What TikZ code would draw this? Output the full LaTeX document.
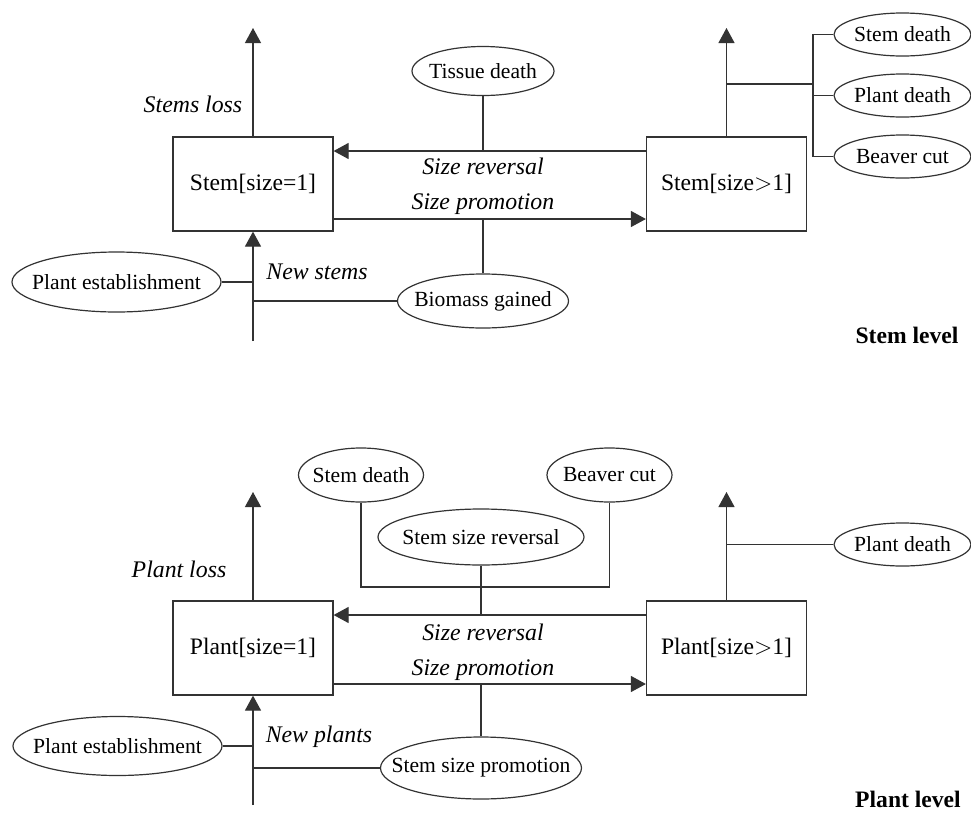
\documentclass[tikz,border=0pt]{standalone}
\usepackage{fontspec}
\setmainfont{Liberation Serif}
\usetikzlibrary{calc,arrows.meta,shapes.geometric}

\begin{document}
\begin{tikzpicture}[x=0.5pt,y=-0.5pt,font=\fontsize{11.8}{14}\selectfont]
                      \tikzstyle{box}=[rectangle,draw=black!80,line width=0.6pt,minimum width=80pt,minimum height=47pt,inner sep=0pt]
                      \tikzstyle{oval}=[ellipse,draw=black!80,line width=0.6pt,inner xsep=-60pt,inner ysep=-20pt,font=\fontsize{10.8}{13}\selectfont]
                      \tikzstyle{flow}=[draw=black!80,line width=0.6pt,-{Triangle[length=7.5pt,width=8pt]}]
                      \tikzstyle{link}=[draw=black!80,line width=0.6pt]
                      \tikzstyle{lab}=[font=\fontsize{11.9}{14}\selectfont\itshape]
                      \tikzstyle{tag}=[font=\fontsize{11.8}{14}\selectfont\bfseries]
                      \useasboundingbox (0,0) rectangle (971,815);
                      \node[box] (s1) at (253,184) {Stem[size=1]};
                      \node[box] (s2) at (726.5,184) {Stem[size$>$1]};
                      \node[oval,minimum width=71pt,minimum height=24.5pt] (td) at (483,71) {Tissue death};
                      \node[oval,minimum width=85.5pt,minimum height=27pt] (bg) at (483,301) {Biomass gained};
                      \node[oval,minimum width=104.5pt,minimum height=30pt] (pe) at (116.5,282) {Plant establishment};
                      \node[oval,minimum width=68.5pt,minimum height=21.5pt] (sd) at (902.5,34.5) {Stem death};
                      \node[oval,minimum width=68.5pt,minimum height=21.5pt] (pd) at (902.5,95.5) {Plant death};
                      \node[oval,minimum width=68.5pt,minimum height=21.5pt] (bc) at (902.5,156.5) {Beaver cut};
                      \coordinate (s1up) at (253,28);
                      \coordinate (s2up) at (726.5,28);
                      \coordinate (s1in) at (253,341);
                      \coordinate (rv) at (483,151);
                      \coordinate (pr) at (483,219);
                      \coordinate (br) at (813,84);
                      \draw[flow] (s1) -- (s1up);
                      \draw[flow] (s2) -- (s2up);
                      \draw[flow] (s1in) -- (s1);
                      \draw[flow] (rv -| s2.west) -- (rv -| s1.east);
                      \draw[flow] (pr -| s1.east) -- (pr -| s2.west);
                      \draw[link] (td) -- (rv);
                      \draw[link] (bg) -- (pr);
                      \draw[link] (pe) -- (pe -| s1in);
                      \draw[link] (bg) -- (bg -| s1in);
                      \draw[link] (br -| s2up) -- (br);
                      \draw[link] (sd) -- (sd -| br) -- (bc -| br) -- (bc);
                      \draw[link] (pd) -- (pd -| br);
                      \node[lab] (sl) at (193,104) {Stems loss};
                      \node[lab] (ns) at (317,272) {New stems};
                      \node[lab] (srl) at (483,166) {Size reversal};
                      \node[lab] (spl) at (483,204) {Size promotion};
                      \node[tag] (stl) at (907,335) {Stem level};
                      \node[box] (p1) at (253,648) {Plant[size=1]};
                      \node[box] (p2) at (726.5,648) {Plant[size$>$1]};
                      \node[oval,minimum width=62.5pt,minimum height=27pt] (sd2) at (361,475) {Stem death};
                      \node[oval,minimum width=62.5pt,minimum height=27pt] (bc2) at (609.5,475) {Beaver cut};
                      \node[oval,minimum width=103pt,minimum height=28pt] (ssr) at (481,537) {Stem size reversal};
                      \node[oval,minimum width=100.5pt,minimum height=31pt] (ssp) at (481,768) {Stem size promotion};
                      \node[oval,minimum width=104.5pt,minimum height=29.5pt] (pe2) at (117.5,746) {Plant establishment};
                      \node[oval,minimum width=68.5pt,minimum height=21.5pt] (pd2) at (902.5,544.5) {Plant death};
                      \coordinate (p1up) at (253,492);
                      \coordinate (p2up) at (726.5,492);
                      \coordinate (p1in) at (253,805);
                      \coordinate (rv2) at (481,615);
                      \coordinate (pr2) at (481,684);
                      \coordinate (jn) at (481,587);
                      \draw[flow] (p1) -- (p1up);
                      \draw[flow] (p2) -- (p2up);
                      \draw[flow] (p1in) -- (p1);
                      \draw[flow] (rv2 -| p2.west) -- (rv2 -| p1.east);
                      \draw[flow] (pr2 -| p1.east) -- (pr2 -| p2.west);
                      \draw[link] (sd2) |- (jn) -| (bc2);
                      \draw[link] (ssr) -- (rv2);
                      \draw[link] (ssp) -- (pr2);
                      \draw[link] (pe2) -- (pe2 -| p1in);
                      \draw[link] (ssp) -- (ssp -| p1in);
                      \draw[link] (pd2) -- (pd2 -| p2up);
                      \node[lab] (pl) at (179,569) {Plant loss};
                      \node[lab] (np) at (319,737) {New plants};
                      \node[lab] (srl2) at (483,632) {Size reversal};
                      \node[lab] (spl2) at (483,670) {Size promotion};
                      \node[tag] (pll) at (908,799) {Plant level};
                  \end{tikzpicture}
\end{document}
